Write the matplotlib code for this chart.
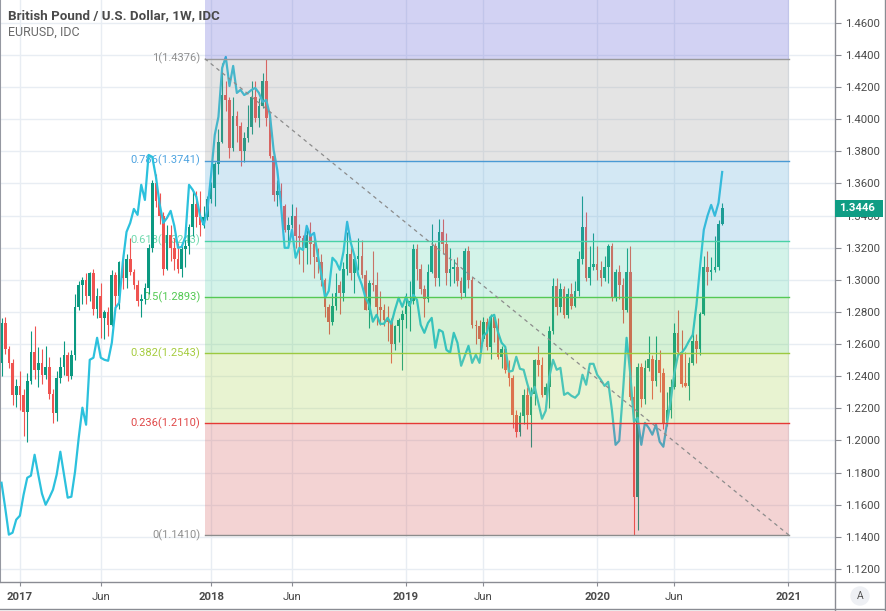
import numpy as np
import pandas as pd
import matplotlib
matplotlib.use("Agg")
import matplotlib.pyplot as plt
from matplotlib.lines import Line2D
from matplotlib.patches import Rectangle

plt.rcParams['font.family'] = ['Roboto', 'DejaVu Sans']

# ---------------- data (weekly GBPUSD candles, EURUSD overlay on chart scale) ----------------
first_bar = "2016-11-28"

opens = [1.248, 1.273, 1.257, 1.248, 1.228, 1.234, 1.228, 1.218, 1.237, 1.255,
         1.244, 1.248, 1.241, 1.246, 1.229, 1.217, 1.239, 1.246, 1.253, 1.240,
         1.253, 1.283, 1.297, 1.300, 1.290, 1.304, 1.282, 1.290, 1.276, 1.280,
         1.272, 1.303, 1.290, 1.311, 1.301, 1.313, 1.305, 1.297, 1.287, 1.288,
         1.295, 1.320, 1.360, 1.349, 1.340, 1.307, 1.328, 1.320, 1.313, 1.307,
         1.319, 1.321, 1.333, 1.347, 1.339, 1.334, 1.339, 1.350, 1.357, 1.372,
         1.386, 1.415, 1.412, 1.382, 1.402, 1.396, 1.380, 1.388, 1.395, 1.414,
         1.401, 1.408, 1.424, 1.401, 1.377, 1.353, 1.355, 1.346, 1.331, 1.334,
         1.340, 1.327, 1.326, 1.320, 1.328, 1.322, 1.314, 1.311, 1.300, 1.283,
         1.274, 1.284, 1.297, 1.292, 1.307, 1.316, 1.304, 1.313, 1.315, 1.303,
         1.281, 1.298, 1.297, 1.283, 1.281, 1.275, 1.274, 1.260, 1.271, 1.275,
         1.279, 1.284, 1.287, 1.319, 1.307, 1.294, 1.288, 1.305, 1.321, 1.301,
         1.330, 1.322, 1.304, 1.307, 1.308, 1.299, 1.292, 1.318, 1.300, 1.272,
         1.271, 1.263, 1.274, 1.258, 1.277, 1.270, 1.252, 1.257, 1.244, 1.239,
         1.216, 1.205, 1.215, 1.228, 1.216, 1.229, 1.250, 1.247, 1.228, 1.233,
         1.268, 1.296, 1.283, 1.294, 1.278, 1.291, 1.284, 1.293, 1.313, 1.333,
         1.301, 1.308, 1.310, 1.306, 1.301, 1.308, 1.321, 1.289, 1.305, 1.297,
         1.281, 1.305, 1.227, 1.165, 1.246, 1.226, 1.245, 1.251, 1.237, 1.250,
         1.242, 1.212, 1.219, 1.233, 1.267, 1.255, 1.236, 1.234, 1.248, 1.262,
         1.257, 1.279, 1.308, 1.305, 1.306, 1.308, 1.335]

highs = [1.276, 1.277, 1.259, 1.251, 1.238, 1.243, 1.232, 1.242, 1.268, 1.271,
         1.258, 1.257, 1.259, 1.252, 1.232, 1.243, 1.252, 1.262, 1.255, 1.256,
         1.291, 1.299, 1.302, 1.304, 1.305, 1.307, 1.295, 1.298, 1.281, 1.283,
         1.306, 1.305, 1.312, 1.316, 1.316, 1.326, 1.307, 1.300, 1.291, 1.298,
         1.322, 1.362, 1.366, 1.354, 1.342, 1.334, 1.334, 1.326, 1.323, 1.322,
         1.325, 1.335, 1.355, 1.355, 1.355, 1.346, 1.352, 1.361, 1.373, 1.394,
         1.435, 1.424, 1.414, 1.414, 1.405, 1.398, 1.392, 1.409, 1.424, 1.424,
         1.413, 1.429, 1.4376, 1.404, 1.380, 1.362, 1.360, 1.347, 1.339, 1.347,
         1.345, 1.335, 1.328, 1.331, 1.336, 1.329, 1.320, 1.316, 1.301, 1.285,
         1.292, 1.304, 1.299, 1.311, 1.330, 1.322, 1.313, 1.326, 1.325, 1.306,
         1.300, 1.318, 1.305, 1.293, 1.285, 1.284, 1.276, 1.272, 1.276, 1.281,
         1.292, 1.299, 1.322, 1.322, 1.310, 1.297, 1.310, 1.335, 1.323, 1.338,
         1.338, 1.329, 1.320, 1.313, 1.314, 1.302, 1.320, 1.321, 1.302, 1.275,
         1.275, 1.277, 1.276, 1.279, 1.279, 1.276, 1.259, 1.258, 1.250, 1.241,
         1.219, 1.218, 1.232, 1.233, 1.233, 1.251, 1.259, 1.252, 1.236, 1.271,
         1.301, 1.301, 1.298, 1.296, 1.295, 1.298, 1.299, 1.318, 1.352, 1.342,
         1.321, 1.329, 1.321, 1.312, 1.315, 1.322, 1.323, 1.307, 1.309, 1.301,
         1.320, 1.321, 1.234, 1.248, 1.248, 1.250, 1.265, 1.253, 1.265, 1.256,
         1.245, 1.230, 1.238, 1.273, 1.281, 1.269, 1.255, 1.252, 1.268, 1.266,
         1.280, 1.315, 1.318, 1.314, 1.327, 1.337, 1.348]

lows = [1.240, 1.254, 1.245, 1.222, 1.221, 1.219, 1.203, 1.199, 1.235, 1.238,
        1.233, 1.235, 1.238, 1.226, 1.211, 1.212, 1.236, 1.241, 1.237, 1.238,
        1.250, 1.281, 1.285, 1.285, 1.287, 1.278, 1.276, 1.264, 1.263, 1.265,
        1.271, 1.281, 1.282, 1.294, 1.295, 1.303, 1.294, 1.284, 1.277, 1.285,
        1.291, 1.317, 1.345, 1.335, 1.303, 1.306, 1.312, 1.306, 1.304, 1.302,
        1.308, 1.316, 1.327, 1.333, 1.327, 1.332, 1.337, 1.348, 1.346, 1.366,
        1.385, 1.405, 1.376, 1.380, 1.386, 1.371, 1.373, 1.386, 1.391, 1.398,
        1.395, 1.407, 1.396, 1.376, 1.349, 1.346, 1.341, 1.330, 1.321, 1.332,
        1.320, 1.310, 1.305, 1.310, 1.310, 1.301, 1.304, 1.296, 1.277, 1.266,
        1.272, 1.281, 1.279, 1.287, 1.303, 1.300, 1.292, 1.306, 1.301, 1.281,
        1.270, 1.293, 1.272, 1.272, 1.271, 1.262, 1.248, 1.256, 1.261, 1.244,
        1.270, 1.268, 1.285, 1.300, 1.291, 1.277, 1.286, 1.304, 1.296, 1.296,
        1.316, 1.297, 1.296, 1.298, 1.296, 1.288, 1.289, 1.295, 1.270, 1.260,
        1.256, 1.262, 1.256, 1.251, 1.261, 1.251, 1.245, 1.242, 1.234, 1.208,
        1.202, 1.203, 1.210, 1.207, 1.196, 1.222, 1.240, 1.227, 1.220, 1.220,
        1.266, 1.278, 1.280, 1.276, 1.276, 1.282, 1.283, 1.290, 1.310, 1.299,
        1.297, 1.306, 1.300, 1.296, 1.299, 1.298, 1.287, 1.287, 1.288, 1.273,
        1.280, 1.225, 1.141, 1.144, 1.221, 1.223, 1.243, 1.226, 1.234, 1.230,
        1.207, 1.209, 1.214, 1.232, 1.253, 1.233, 1.233, 1.225, 1.247, 1.248,
        1.253, 1.278, 1.297, 1.300, 1.305, 1.306, 1.334]

closes = [1.273, 1.257, 1.248, 1.228, 1.234, 1.228, 1.218, 1.237, 1.255, 1.244,
          1.248, 1.241, 1.246, 1.229, 1.217, 1.239, 1.246, 1.253, 1.240, 1.253,
          1.283, 1.297, 1.300, 1.290, 1.304, 1.282, 1.290, 1.276, 1.280, 1.272,
          1.303, 1.290, 1.311, 1.301, 1.313, 1.305, 1.297, 1.287, 1.288, 1.295,
          1.320, 1.360, 1.349, 1.340, 1.307, 1.328, 1.320, 1.313, 1.307, 1.319,
          1.321, 1.333, 1.347, 1.339, 1.334, 1.339, 1.350, 1.357, 1.372, 1.386,
          1.415, 1.412, 1.382, 1.402, 1.396, 1.380, 1.388, 1.395, 1.414, 1.401,
          1.408, 1.424, 1.401, 1.377, 1.353, 1.355, 1.346, 1.331, 1.334, 1.340,
          1.327, 1.326, 1.320, 1.328, 1.322, 1.314, 1.311, 1.300, 1.283, 1.274,
          1.284, 1.292, 1.292, 1.307, 1.316, 1.304, 1.313, 1.315, 1.303, 1.281,
          1.298, 1.297, 1.283, 1.281, 1.275, 1.274, 1.260, 1.271, 1.275, 1.279,
          1.284, 1.287, 1.319, 1.307, 1.294, 1.288, 1.305, 1.321, 1.301, 1.330,
          1.322, 1.304, 1.307, 1.308, 1.299, 1.292, 1.318, 1.300, 1.272, 1.271,
          1.263, 1.274, 1.258, 1.277, 1.270, 1.252, 1.257, 1.244, 1.239, 1.216,
          1.205, 1.215, 1.228, 1.216, 1.229, 1.250, 1.247, 1.228, 1.233, 1.268,
          1.296, 1.283, 1.294, 1.278, 1.291, 1.284, 1.293, 1.313, 1.333, 1.301,
          1.308, 1.310, 1.306, 1.301, 1.308, 1.321, 1.289, 1.305, 1.297, 1.281,
          1.305, 1.227, 1.165, 1.246, 1.226, 1.245, 1.251, 1.237, 1.250, 1.242,
          1.210, 1.219, 1.233, 1.267, 1.255, 1.235, 1.234, 1.248, 1.262, 1.257,
          1.279, 1.308, 1.305, 1.306, 1.308, 1.335, 1.3446]

# EURUSD comparison line, as it sits on the chart's price scale
eurusd_overlay = [1.1737, 1.1582, 1.1414, 1.1426, 1.1507, 1.1532, 1.1662, 1.1768, 1.1781, 1.1911,
                  1.1787, 1.1669, 1.1600, 1.1644, 1.1694, 1.1787, 1.1930, 1.1787, 1.1644, 1.1650,
                  1.1806, 1.2017, 1.2204, 1.2098, 1.2502, 1.2515, 1.2639, 1.2515, 1.2502, 1.2496,
                  1.2608, 1.2826, 1.2857, 1.3112, 1.3298, 1.3354, 1.3441, 1.3404, 1.3591, 1.3497,
                  1.3777, 1.3765, 1.3640, 1.3472, 1.3354, 1.3385, 1.3429, 1.3336, 1.3199, 1.3205,
                  1.3267, 1.3591, 1.3560, 1.3516, 1.3398, 1.3342, 1.3435, 1.3653, 1.3902, 1.4014,
                  1.4318, 1.4387, 1.4206, 1.4331, 1.4163, 1.4182, 1.4150, 1.4163, 1.4182, 1.4194,
                  1.4163, 1.4107, 1.4119, 1.4026, 1.3808, 1.3684, 1.3466, 1.3199, 1.3199, 1.3311,
                  1.3137, 1.3199, 1.3186, 1.3336, 1.3273, 1.3292, 1.3155, 1.3031, 1.2888, 1.2931,
                  1.3137, 1.3112, 1.3062, 1.3174, 1.3361, 1.3230, 1.3149, 1.3031, 1.2969, 1.2888,
                  1.2844, 1.2739, 1.2782, 1.2726, 1.2726, 1.2763, 1.2726, 1.2813, 1.2888, 1.2832,
                  1.2894, 1.2838, 1.2906, 1.2875, 1.2720, 1.2670, 1.2732, 1.2763, 1.2577, 1.2689,
                  1.2676, 1.2564, 1.2546, 1.2670, 1.2608, 1.2465, 1.2527, 1.2589, 1.2483, 1.2533,
                  1.2483, 1.2651, 1.2670, 1.2770, 1.2782, 1.2676, 1.2608, 1.2583, 1.2428, 1.2434,
                  1.2521, 1.2446, 1.2440, 1.2353, 1.2278, 1.2334, 1.2235, 1.2135, 1.2185, 1.2396,
                  1.2502, 1.2440, 1.2452, 1.2284, 1.2297, 1.2278, 1.2266, 1.2291, 1.2409, 1.2347,
                  1.2477, 1.2477, 1.2409, 1.2378, 1.2340, 1.2365, 1.2191, 1.1973, 1.1998, 1.2297,
                  1.2639, 1.2415, 1.2117, 1.2141, 1.1973, 1.2110, 1.2079, 1.2036, 1.2098, 1.1992,
                  1.1961, 1.2110, 1.2247, 1.2421, 1.2533, 1.2546, 1.2577, 1.2620, 1.2658, 1.2844,
                  1.3087, 1.3311, 1.3398, 1.3466, 1.3398, 1.3479, 1.3671]

tick_periods = ["2017-01-01", "2017-06-01", "2018-01-01", "2018-06-01", "2019-01-01",
                "2019-06-01", "2020-01-01", "2020-06-01", "2021-01-01"]
tick_labels = ["2017", "Jun", "2018", "Jun", "2019", "Jun", "2020", "Jun", "2021"]
price_ticks = [1.12, 1.14, 1.16, 1.18, 1.20, 1.22, 1.24, 1.26, 1.28, 1.30,
               1.32, 1.34, 1.36, 1.38, 1.40, 1.42, 1.44, 1.46]

fib_start_bar = 55.3          # anchor 1 (bar units)
fib_end_bar = 214.2           # anchor 2 (bar units)
fib_high = 1.4376
fib_low = 1.1410
fib_ratios = [1.618, 1, 0.786, 0.618, 0.5, 0.382, 0.236, 0]
last_price = 1.3446

title = "British Pound / U.S. Dollar, 1W, IDC"
subtitle = "EURUSD, IDC"

# ---------------- style ----------------
UP = '#0b9981'
DN = '#ef5350'
LINE = '#2cc1dd'
GRID = '#e8edf3'
AXC = '#8a8c93'
TXT = '#4a4a4a'
fill_cols = ['#4f4fd0', '#979797', '#53a7d7', '#53d3ab', '#5bcb5b', '#a7d34b', '#d35353']
line_cols = {1.618: '#4f4fd0', 1: '#9a9a9a', 0.786: '#4a9ad4', 0.618: '#49d2a6', 0.5: '#55c955',
             0.382: '#9cc940', 0.236: '#e53935', 0: '#8c8c8c'}
label_cols = {1: '#8f8f8f', 0.786: '#4da3e0', 0.618: '#6fd9ae', 0.5: '#52c952',
              0.382: '#a5cc3e', 0.236: '#e04848', 0: '#8f8f8f'}

W, H = 887, 611
fig = plt.figure(figsize=(W / 100, H / 100), dpi=100)
fig.patch.set_facecolor('white')
ax = fig.add_axes([0, 1 - 582 / H, 835 / W, 582 / H])
ax.set_facecolor('white')

o = np.array(opens); h = np.array(highs); l = np.array(lows); c = np.array(closes)
n = len(c)
idx = np.arange(n)
t0 = pd.Timestamp(first_bar)
tick_pos = [float(np.ceil((pd.Timestamp(d) - t0).days / 7)) for d in tick_periods]

ax.set_xlim(-0.41, 226.68)
ax.set_ylim(1.11192, 1.47413)

# grid
for p in price_ticks:
    ax.axhline(p, color=GRID, lw=1, zorder=0)
for tp in tick_pos:
    ax.axvline(tp, color=GRID, lw=1, zorder=0)

# candles
up = c >= o
cols = np.where(up, UP, DN)
ax.vlines(idx, l, h, colors=cols, lw=0.8, zorder=2)
body_lo = np.minimum(o, c)
body_h = np.maximum(np.abs(c - o), 0.0008)
ax.bar(idx, body_h, bottom=body_lo, width=0.72, color=cols, lw=0, zorder=2.1)

# EURUSD overlay
ax.plot(idx, eurusd_overlay, color=LINE, lw=1.6, zorder=3, solid_joinstyle='round')

# fibonacci retracement
levels = [fib_low + r * (fib_high - fib_low) for r in fib_ratios]
for k in range(len(levels) - 1):
    ax.fill_between([fib_start_bar, fib_end_bar], levels[k + 1], levels[k],
                    color=fill_cols[k], alpha=0.25, lw=0, zorder=4)
for r, lv in zip(fib_ratios, levels):
    ax.plot([fib_start_bar, fib_end_bar], [lv, lv], color=line_cols[r], lw=1.0, zorder=5)
    if r in label_cols:
        ax.text(fib_start_bar - 1.2, lv, f"{r:g}({lv:.4f})", ha='right', va='center',
                fontsize=8, color=label_cols[r], zorder=1.5)
ax.plot([fib_start_bar, fib_end_bar], [fib_high, fib_low], ls=(0, (3, 3)),
        color='#8c8c8c', lw=0.9, zorder=5)

# axes
ax.spines['top'].set_visible(False)
ax.spines['left'].set_color('#9598a1')
ax.spines['left'].set_linewidth(1.5)
ax.spines['right'].set_color(AXC)
ax.spines['bottom'].set_color(AXC)
ax.spines['right'].set_linewidth(1.0)
ax.spines['bottom'].set_linewidth(1.0)

ax.yaxis.tick_right()
ax.set_yticks(price_ticks)
ax.set_yticklabels([f"{p:.4f}" for p in price_ticks])
ax.tick_params(axis='y', length=4, color=AXC, labelsize=8.2, labelcolor=TXT, pad=3)
ax.set_xticks(tick_pos)
ax.set_xticklabels(tick_labels)
ax.tick_params(axis='x', length=3, color=AXC, labelsize=8.2, labelcolor=TXT, pad=4)
for lab in ax.get_xticklabels():
    if lab.get_text().isdigit():
        lab.set_fontweight('bold')

# last price label
y_fig = fig.transFigure.inverted().transform(ax.transData.transform((0, last_price)))[1]
fig.patches.append(Rectangle((835 / W, y_fig - 8.5 / H), 48 / W, 17 / H, transform=fig.transFigure,
                             fc='#0f9d84', ec='none', zorder=10))
fig.text(839 / W, y_fig, f"{last_price:.4f}", ha='left', va='center', color='white',
         fontsize=8.2, fontweight='bold', zorder=11)

# frame
fig.add_artist(Line2D([835 / W, 835 / W], [0, 1 - 582 / H], color=AXC, lw=1.0))
fig.add_artist(Line2D([835 / W, 885 / W], [1 - 582 / H, 1 - 582 / H], color=AXC, lw=1.0))
fig.add_artist(Line2D([885 / W, 885 / W], [0, 1], color=AXC, lw=1.0))
fig.add_artist(Line2D([0, 885 / W], [2 / H, 2 / H], color=AXC, lw=1.0))
fig.text(860 / W, 1 - 596 / H, 'A', ha='center', va='center', fontsize=7.5, color='#555',
         bbox=dict(boxstyle='circle,pad=0.45', fc='#eef0f4', ec='none'))

# titles
fig.text(8 / W, 1 - 16 / H, title, ha='left', va='center', fontsize=9.6, color=TXT,
         fontweight='semibold')
fig.text(8 / W, 1 - 32.5 / H, subtitle, ha='left', va='center', fontsize=9, color='#6a6a6a')

fig.savefig('out.png', dpi=100)
